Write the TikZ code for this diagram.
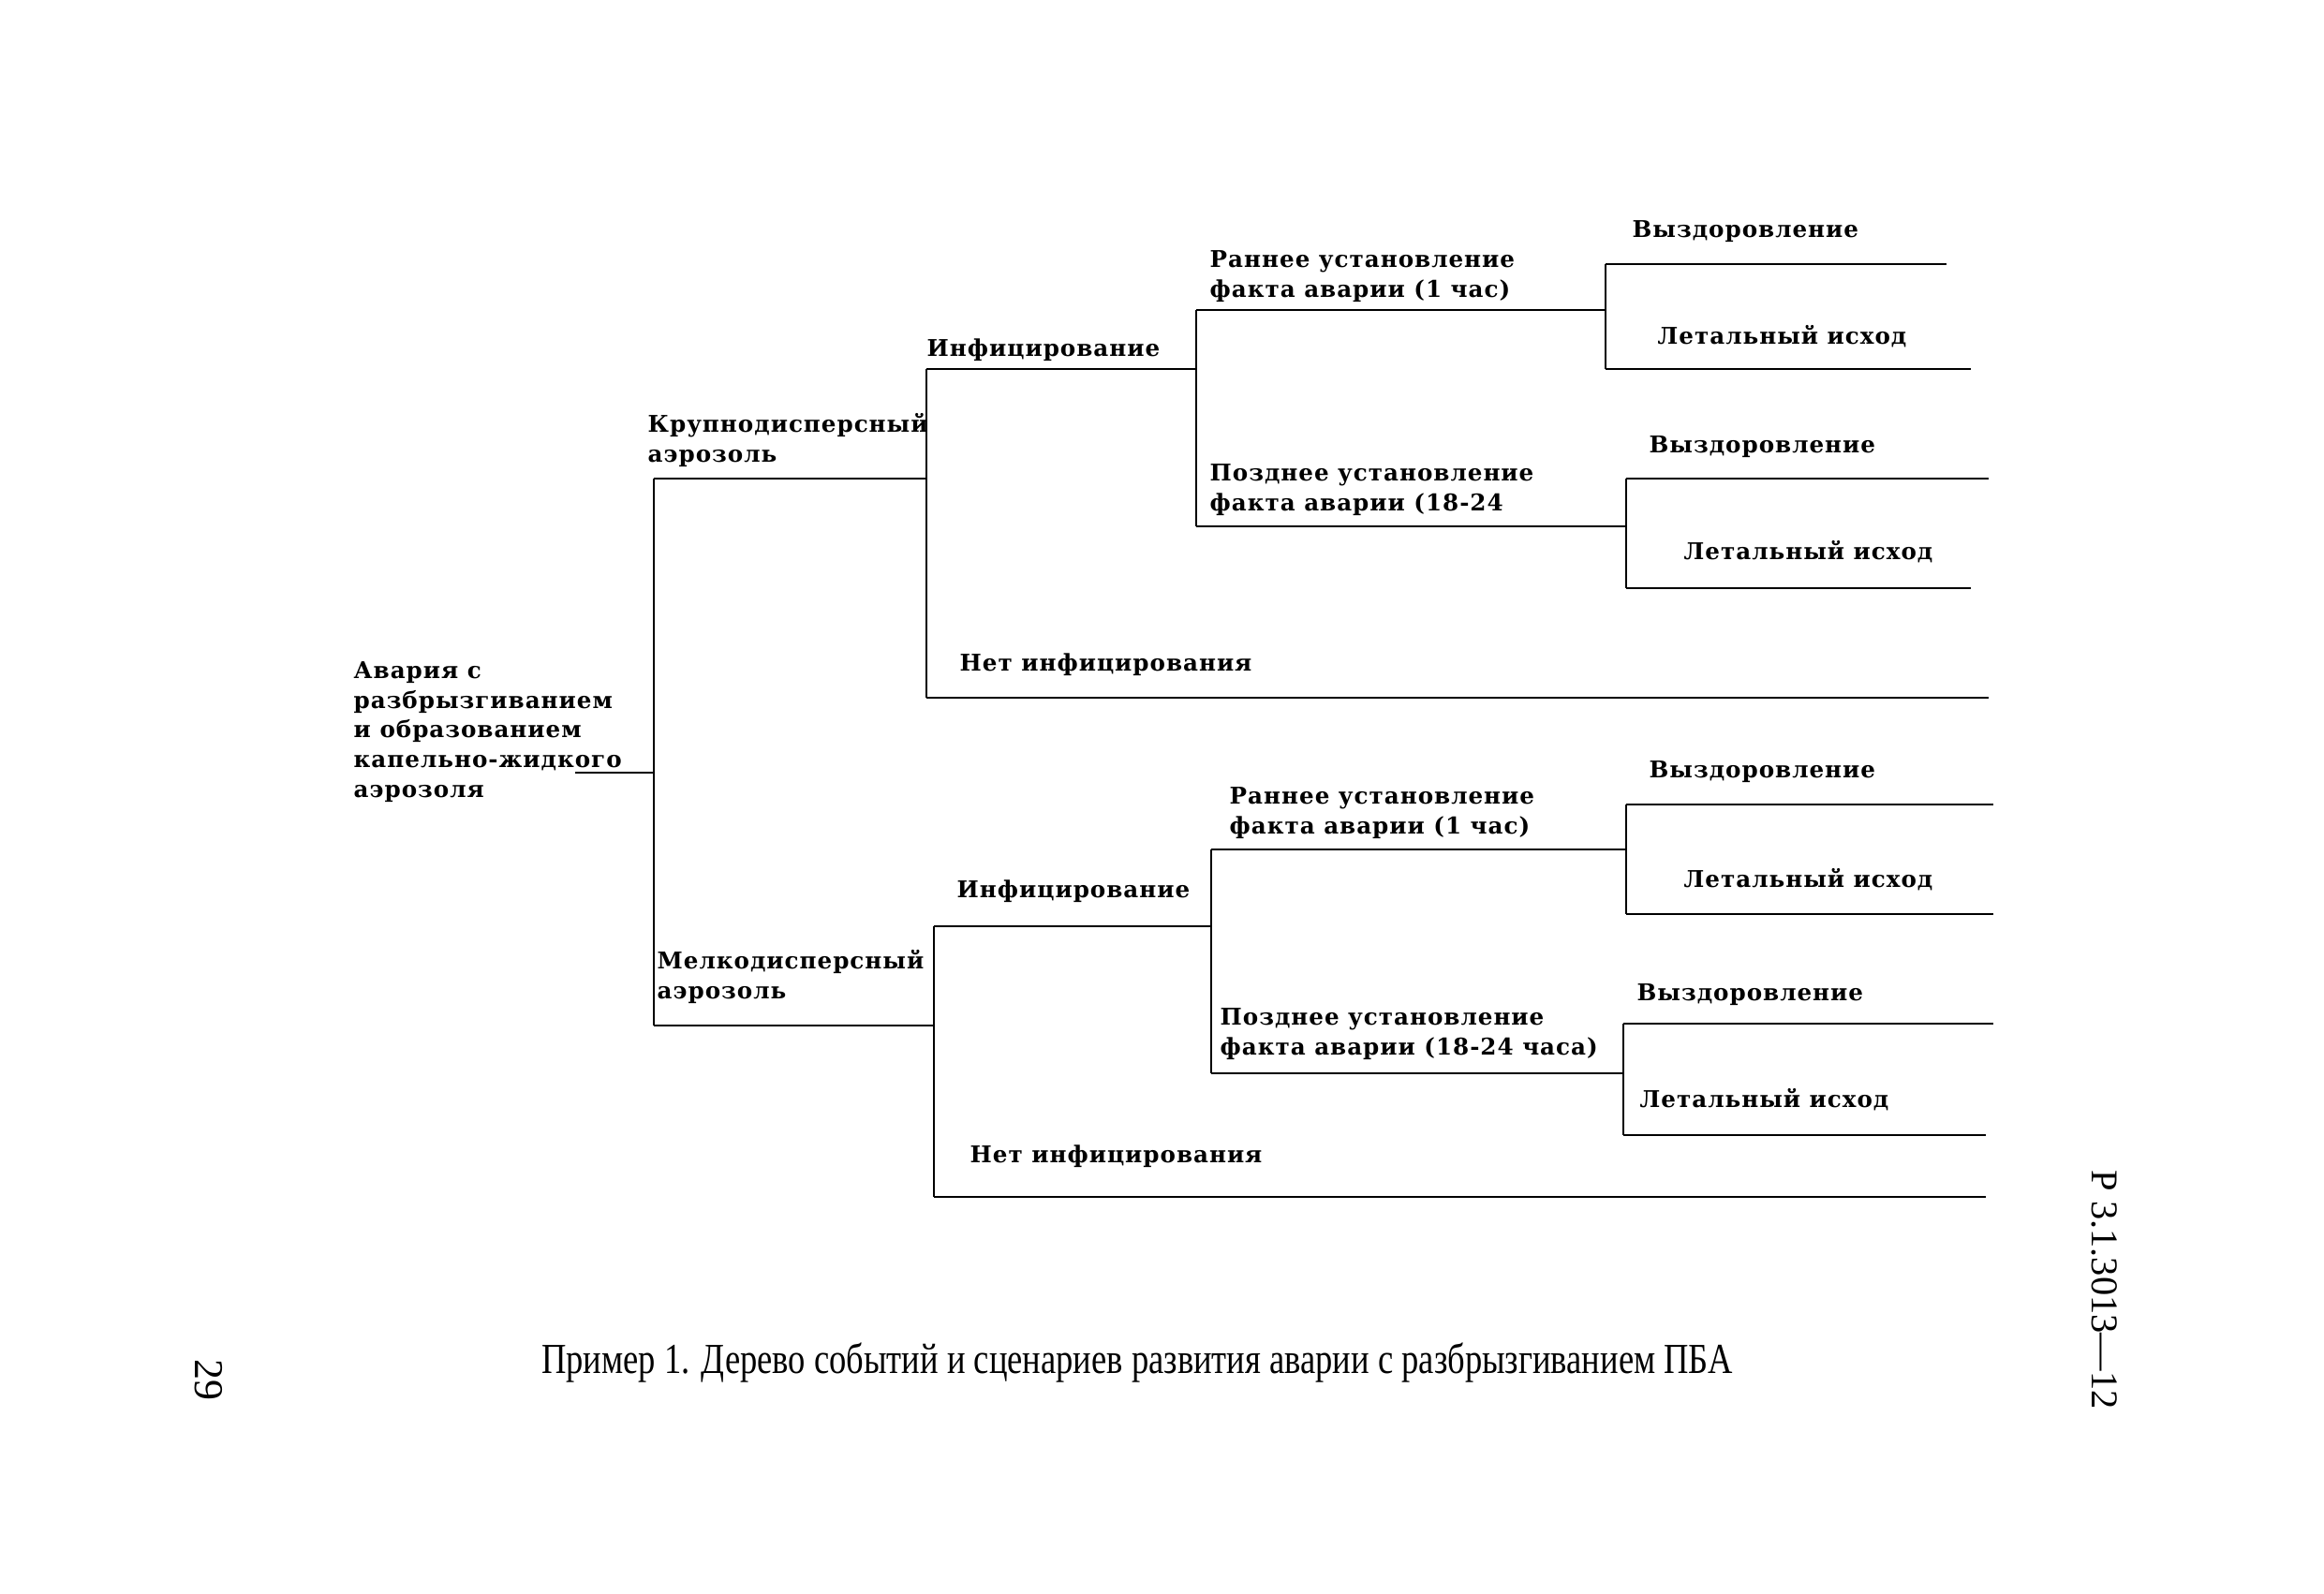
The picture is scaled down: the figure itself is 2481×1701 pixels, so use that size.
\documentclass[tikz,border=0pt]{standalone}
\usepackage{fontspec}
\setmainfont{Liberation Serif}
\newfontfamily\treefont[LetterSpace=4]{DejaVu Serif}
\begin{document}
\begin{tikzpicture}[x=0.1mm,y=-0.1mm,
  lbl/.style={anchor=base west,inner sep=0pt,align=left,
    font=\treefont\bfseries\fontsize{7}{9}\selectfont},
  ln/.style={line width=0.6pt,black}]
\useasboundingbox[fill=white] (0,0) rectangle (2481,1701);
% labels (anchor = baseline of the last line)
\node[lbl] (root) at (377,851) {Авария с\\разбрызгиванием\\и образованием\\капельно-жидкого\\аэрозоля};
\node[lbl] (A) at (691,493) {Крупнодисперсный\\аэрозоль};
\node[lbl] (A1) at (989,380) {Инфицирование};
\node[lbl] (A1a) at (1291,317) {Раннее установление\\факта аварии (1 час)};
\node[lbl] (L1) at (1742,253) {Выздоровление};
\node[lbl] (L2) at (1769,367) {Летальный исход};
\node[lbl] (A1b) at (1291,545) {Позднее установление\\факта аварии (18-24};
\node[lbl] (L3) at (1760,483) {Выздоровление};
\node[lbl] (L4) at (1797,597) {Летальный исход};
\node[lbl] (A2) at (1024,716) {Нет инфицирования};
\node[lbl] (B) at (701,1066) {Мелкодисперсный\\аэрозоль};
\node[lbl] (B1) at (1021,958) {Инфицирование};
\node[lbl] (B1a) at (1312,890) {Раннее установление\\факта аварии (1 час)};
\node[lbl] (L5) at (1760,830) {Выздоровление};
\node[lbl] (L6) at (1797,947) {Летальный исход};
\node[lbl] (B1b) at (1302,1126) {Позднее установление\\факта аварии (18-24 часа)};
\node[lbl] (L7) at (1747,1068) {Выздоровление};
\node[lbl] (L8) at (1750,1182) {Летальный исход};
\node[lbl] (B2) at (1035,1241) {Нет инфицирования};
% junctions
\coordinate (r0) at (614,825);
\coordinate (r1) at (698,825);
\coordinate (v0t) at (698,511);
\coordinate (v0b) at (698,1095);
\coordinate (a0) at (989,511);
\coordinate (a1t) at (989,394);
\coordinate (a1b) at (989,745);
\coordinate (a1e) at (1277,394);
\coordinate (a2t) at (1277,331);
\coordinate (a2b) at (1277,562);
\coordinate (a3t) at (1714,331);
\coordinate (a3u) at (1714,282);
\coordinate (a3d) at (1714,394);
\coordinate (l1e) at (2078,282);
\coordinate (l2e) at (2104,394);
\coordinate (a4) at (1736,562);
\coordinate (a4u) at (1736,511);
\coordinate (a4d) at (1736,628);
\coordinate (l3e) at (2123,511);
\coordinate (l4e) at (2104,628);
\coordinate (a2e) at (2123,745);
\coordinate (b0) at (997,1095);
\coordinate (b1t) at (997,989);
\coordinate (b1b) at (997,1278);
\coordinate (b1e) at (1293,989);
\coordinate (b2t) at (1293,907);
\coordinate (b2b) at (1293,1146);
\coordinate (b3) at (1736,907);
\coordinate (b3u) at (1736,859);
\coordinate (b3d) at (1736,976);
\coordinate (l5e) at (2128,859);
\coordinate (l6e) at (2128,976);
\coordinate (b4) at (1733,1146);
\coordinate (b4u) at (1733,1093);
\coordinate (b4d) at (1733,1212);
\coordinate (l7e) at (2128,1093);
\coordinate (l8e) at (2120,1212);
\coordinate (b2e) at (2120,1278);
% connectors
\draw[ln] (r0) -- (r1);
\draw[ln] (v0t) -- (v0b);
\draw[ln] (v0t) -- (a0);
\draw[ln] (a1t) -- (a1b);
\draw[ln] (a1t) -- (a1e);
\draw[ln] (a2t) -- (a2b);
\draw[ln] (a2t) -- (a3t);
\draw[ln] (a3u) -- (a3d);
\draw[ln] (a3u) -- (l1e);
\draw[ln] (a3d) -- (l2e);
\draw[ln] (a2b) -- (a4);
\draw[ln] (a4u) -- (a4d);
\draw[ln] (a4u) -- (l3e);
\draw[ln] (a4d) -- (l4e);
\draw[ln] (a1b) -- (a2e);
\draw[ln] (v0b) -- (b0);
\draw[ln] (b1t) -- (b1b);
\draw[ln] (b1t) -- (b1e);
\draw[ln] (b2t) -- (b2b);
\draw[ln] (b2t) -- (b3);
\draw[ln] (b3u) -- (b3d);
\draw[ln] (b3u) -- (l5e);
\draw[ln] (b3d) -- (l6e);
\draw[ln] (b2b) -- (b4);
\draw[ln] (b4u) -- (b4d);
\draw[ln] (b4u) -- (l7e);
\draw[ln] (b4d) -- (l8e);
\draw[ln] (b1b) -- (b2e);
% caption and page marks
\node[inner sep=0pt,font=\fontsize{13}{15}\selectfont] (cap) at (1214,1455)
  {\scalebox{0.8}[1]{Пример 1. Дерево событий и сценариев развития аварии с разбрызгиванием ПБА}};
\node[inner sep=0pt,rotate=-90,font=\fontsize{12.5}{14}\selectfont] (pg) at (223,1473) {29};
\node[inner sep=0pt,rotate=-90,font=\fontsize{11.5}{14}\selectfont] (doc) at (2247,1377) {Р 3.1.3013—12};
\end{tikzpicture}
\end{document}
